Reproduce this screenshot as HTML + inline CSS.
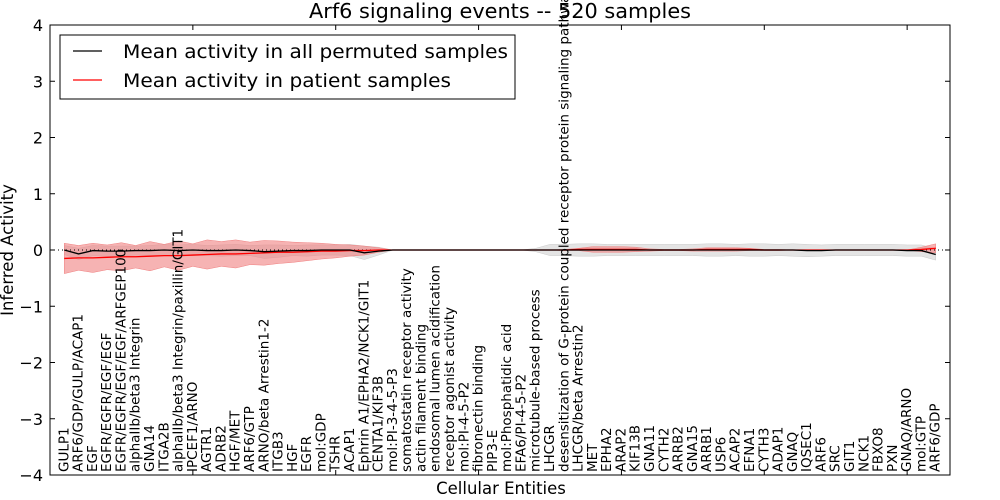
<!DOCTYPE html>
<html><head><meta charset="utf-8"><style>
body{margin:0;background:#fff}
svg{display:block;font-family:"DejaVu Sans","Liberation Sans",sans-serif}
</style></head><body>
<svg id="chart" width="1000" height="500" viewBox="0 0 1000 500" xmlns="http://www.w3.org/2000/svg">
<text x="500" y="18" font-size="20" text-anchor="middle" textLength="382" lengthAdjust="spacingAndGlyphs">Arf6 signaling events -- 520 samples</text>
<text x="501" y="494" font-size="16.5" text-anchor="middle">Cellular Entities</text>
<text transform="translate(13,250) rotate(-90)" font-size="16.5" text-anchor="middle">Inferred Activity</text>
<g id="bands"></g><g id="lines"></g><g id="axes"></g><g id="labels"></g>
<g>
<rect x="60" y="35" width="455" height="64" fill="#fff" stroke="#000" stroke-width="1"/>
<line x1="73" y1="51" x2="102" y2="51" stroke="#000" stroke-width="1.3"/>
<text x="123" y="58" font-size="19" textLength="385" lengthAdjust="spacingAndGlyphs">Mean activity in all permuted samples</text>
<line x1="73" y1="80" x2="102" y2="80" stroke="#f00" stroke-width="1.3"/>
<text x="123" y="87" font-size="19" textLength="328" lengthAdjust="spacingAndGlyphs">Mean activity in patient samples</text>
</g>
</svg>
<script>
const categories=["GULP1","ARF6/GDP/GULP/ACAP1","EGF","EGFR/EGFR/EGF/EGF","EGFR/EGFR/EGF/EGF/ARFGEP100","alphaIIb/beta3 Integrin","GNA14","ITGA2B","alphaIIb/beta3 Integrin/paxillin/GIT1","IPCEF1/ARNO","AGTR1","ADRB2","HGF/MET","ARF6/GTP","ARNO/beta Arrestin1-2","ITGB3","HGF","EGFR","mol:GDP","TSHR","ACAP1","Ephrin A1/EPHA2/NCK1/GIT1","CENTA1/KIF3B","mol:PI-3-4-5-P3","somatostatin receptor activity","actin filament binding","endosomal lumen acidification","receptor agonist activity","mol:PI-4-5-P2","fibronectin binding","PIP3-E","mol:Phosphatidic acid","EFA6/PI-4-5-P2","microtubule-based process","LHCGR","desensitization of G-protein coupled receptor protein signaling pathway","LHCGR/beta Arrestin2","MET","EPHA2","ARAP2","KIF13B","GNA11","CYTH2","ARRB2","GNA15","ARRB1","USP6","ACAP2","EFNA1","CYTH3","ADAP1","GNAQ","IQSEC1","ARF6","SRC","GIT1","NCK1","FBXO8","PXN","GNAQ/ARNO","mol:GTP","ARF6/GDP"];
const permMean=[0,-0.07,-0.01,-0.02,-0.02,-0.01,-0.01,0,-0.01,0,-0.01,-0.01,0,-0.01,-0.03,-0.02,-0.01,-0.01,0,0,0,-0.05,-0.02,0,0,0,0,0,0,0,0,0,0,0,0,0,0,0,0,0,0,0,0,0,0,0,0,0,0,0,0,0,-0.01,-0.01,0,0,0,0,0,-0.01,-0.01,-0.08];
const permHalf=[0.08,0.1,0.09,0.09,0.09,0.08,0.09,0.1,0.1,0.1,0.09,0.1,0.1,0.09,0.12,0.11,0.09,0.1,0.09,0.09,0.1,0.12,0.07,0,0,0,0,0,0,0,0,0,0,0.03,0.1,0.1,0.11,0.11,0.1,0.1,0.1,0.1,0.1,0.1,0.1,0.11,0.11,0.1,0.11,0.11,0.1,0.11,0.11,0.1,0.1,0.1,0.1,0.1,0.1,0.1,0.1,0.1];
const patMean=[-0.15,-0.14,-0.14,-0.13,-0.12,-0.12,-0.11,-0.1,-0.1,-0.09,-0.08,-0.07,-0.07,-0.06,-0.05,-0.04,-0.04,-0.03,-0.02,-0.02,-0.01,-0.01,0,0,0,0,0,0,0,0,0,0,0,0,0,0,0.01,0.01,0.01,0.01,0.01,0,0,0,0,0.01,0.01,0.01,0.01,0,0,0,0,0,0,0,0,0,0,0,0.01,0.03];
const patHalf=[0.27,0.22,0.26,0.22,0.25,0.2,0.26,0.2,0.26,0.2,0.26,0.22,0.25,0.2,0.22,0.2,0.18,0.16,0.14,0.12,0.1,0.08,0.04,0,0,0,0,0,0,0,0,0,0,0,0,0.01,0.02,0.05,0.05,0.05,0.04,0.02,0.01,0.01,0.02,0.03,0.03,0.03,0.02,0.01,0.01,0,0,0,0,0,0,0,0,0,0.04,0.08];
const yTicks=[4,3,2,1,0,-1,-2,-3,-4];
const L=50,R=950,T=25,B=475;
const xs=i=>L+(i+1)*(R-L)/63;
const ys=v=>T+(4-v)*(B-T)/8;
const NS="http://www.w3.org/2000/svg";
function mk(tag,attrs,parent){const e=document.createElementNS(NS,tag);for(const k in attrs)e.setAttribute(k,attrs[k]);document.getElementById(parent).appendChild(e);return e;}
function band(mean,half){let up=mean.map((m,i)=>xs(i)+","+ys(m+half[i]));let dn=mean.map((m,i)=>xs(i)+","+ys(m-half[i])).reverse();return up.concat(dn).join(" ");}
let g=mk("polygon",{points:band(permMean,permHalf),fill:"#d8d8d8","fill-opacity":"0.7",stroke:"#ccc","stroke-width":"0.5"},"bands");


let r=mk("polygon",{points:band(patMean,patHalf),fill:"#f08080","fill-opacity":"0.6",stroke:"#f08080","stroke-width":"0.5"},"bands");


let dz=mk("line",{x1:L,x2:R,y1:ys(0),y2:ys(0),stroke:"#000","stroke-dasharray":"1,3","stroke-width":"1"},"lines");


let pl=mk("polyline",{points:patMean.map((m,i)=>xs(i)+","+ys(m)).join(" "),fill:"none",stroke:"#f00","stroke-width":"1.3"},"lines");


let bl=mk("polyline",{points:permMean.map((m,i)=>xs(i)+","+ys(m)).join(" "),fill:"none",stroke:"#000","stroke-width":"1.3"},"lines");


let fr=mk("rect",{x:L,y:T,width:R-L,height:B-T,fill:"none",stroke:"#000","stroke-width":"1"},"axes");


yTicks.forEach(v=>{
 const y=ys(v);
 mk("line",{x1:L,x2:L+5,y1:y,y2:y,stroke:"#000"},"axes");
 mk("line",{x1:R,x2:R-5,y1:y,y2:y,stroke:"#000"},"axes");
 const t=mk("text",{x:L-7,y:y+6,"font-size":"16","text-anchor":"end"},"axes");
 
 
 t.textContent=(v<0?"\u2212":"")+Math.abs(v);
});
for(let k=0;k<=60;k+=10){const x=xs(k-1);mk("line",{x1:x,x2:x,y1:T,y2:T+5,stroke:"#000"},"axes");mk("line",{x1:x,x2:x,y1:B,y2:B-5,stroke:"#000"},"axes");}
categories.forEach((c,i)=>{
 const x=xs(i)+4;
 const t=mk("text",{transform:`translate(${x},${B-3}) rotate(-90)`,"font-size":"13.5"},"labels");
 
 
 t.textContent=c;
});
</script>
</body></html>
